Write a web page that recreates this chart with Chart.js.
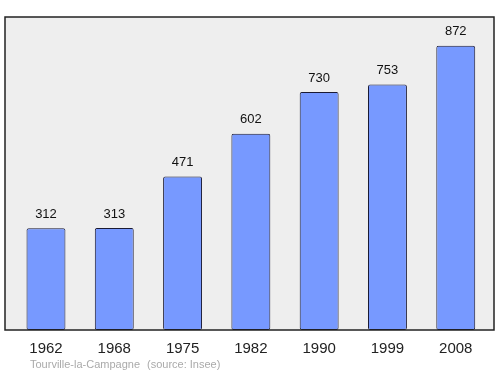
<!DOCTYPE html>
<html>
<head>
<meta charset="utf-8">
<script src="https://cdn.jsdelivr.net/npm/chart.js@4/dist/chart.umd.min.js"></script>
<style>
html,body{margin:0;padding:0;background:#fff;}
#wrap{width:500px;height:374px;}
</style>
</head>
<body>
<div id="wrap"><canvas id="popChart" width="500" height="374"></canvas></div>
<script>
const years = ["1962","1968","1975","1982","1990","1999","2008"];
const population = [312,313,471,602,730,753,872];
const commune = "Tourville-la-Campagne";
const source = "(source: Insee)";

// fond gris + cadre
const frame = {
id:"frame",
beforeDraw(chart){
const a = chart.chartArea, c = chart.ctx;
c.save();
c.fillStyle = "#eeeeee";
c.fillRect(a.left, a.top, a.right-a.left, a.bottom-a.top);
c.restore();
},
afterDraw(chart){
const a = chart.chartArea, c = chart.ctx;
c.save();
c.strokeStyle = "#222";
c.lineWidth = 1.5;
c.strokeRect(a.left, a.top, a.right-a.left, a.bottom-a.top);
c.font = "11px 'Liberation Sans', Arial, sans-serif";
c.fillStyle = "#aaaaaa";
c.textBaseline = "middle";
c.fillText(commune, 30, 365);
c.fillText(source, 147, 365);
c.restore();
}
};

// valeurs au-dessus des barres
const valueLabels = {
id:"valueLabels",
afterDatasetsDraw(chart){
const c = chart.ctx;
c.save();
c.font = "13px 'Liberation Sans', Arial, sans-serif";
c.fillStyle = "#111";
c.textAlign = "center";
c.textBaseline = "middle";
chart.getDatasetMeta(0).data.forEach((bar,i)=>{
c.fillText(population[i], bar.x, bar.y-14);
});
c.restore();
}
};

new Chart(document.getElementById("popChart"),{
type:"bar",
data:{
datasets:[{
data: population.map((v,i)=>({x:i, y:v})),
backgroundColor:"#7799ff",
borderColor:"#1a1a33",
borderWidth:1,
borderRadius:2,
borderSkipped:false,
barPercentage:0.57,
categoryPercentage:1
}]
},
options:{
responsive:false,
animation:false,
layout:{padding:{left:5,right:6,top:17,bottom:6}},
plugins:{legend:{display:false},tooltip:{enabled:false}},
scales:{
x:{
type:"linear",
offset:false,
min:-0.6,
max:6.56,
grid:{display:false,drawTicks:false},
border:{display:false},
afterBuildTicks(axis){
axis.ticks = years.map((y,i)=>({value:i}));
},
ticks:{
autoSkip:false,
maxRotation:0,
padding:10,
color:"#222",
font:{size:15,family:"'Liberation Sans', Arial, sans-serif"},
callback:(v)=>years[v]
}
},
y:{
display:false,
min:0,
max:960
}
}
},
plugins:[frame,valueLabels]
});
</script>
</body>
</html>
